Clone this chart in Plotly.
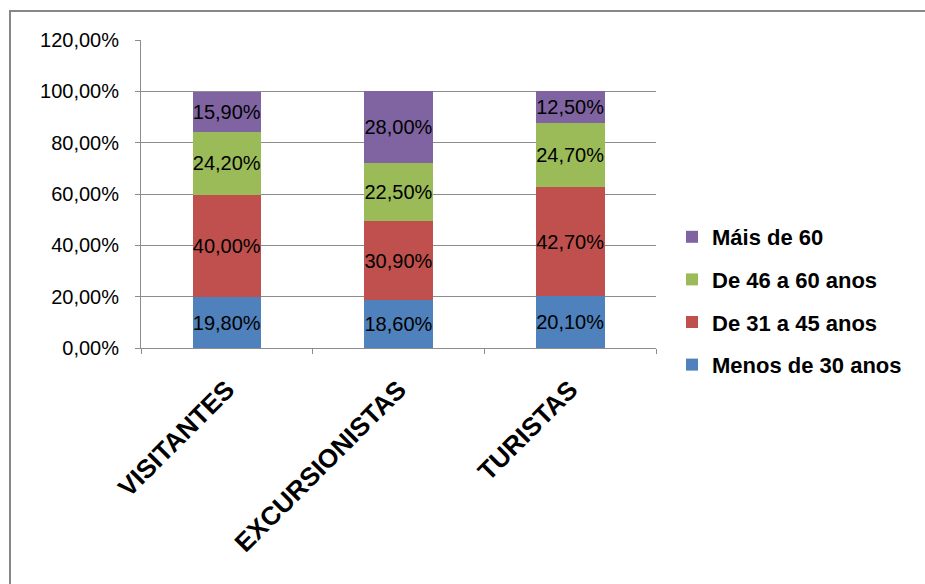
import plotly.graph_objects as go

# Age-group distribution by visitor type (percent of each group)
categories = ["VISITANTES", "EXCURSIONISTAS", "TURISTAS"]
series_names = ["Menos de 30 anos", "De 31 a 45 anos", "De 46 a 60 anos", "Máis de 60"]
menos_30 = [19.8, 18.6, 20.1]
de_31_45 = [40.0, 30.9, 42.7]
de_46_60 = [24.2, 22.5, 24.7]
mais_60 = [15.9, 28.0, 12.5]
series_values = [menos_30, de_31_45, de_46_60, mais_60]
colors = ["#4F81BD", "#C0504D", "#9BBB59", "#8064A2"]

y_ticks = [0, 20, 40, 60, 80, 100, 120]
y_tick_labels = [f"{v:.2f}".replace(".", ",") + "%" for v in y_ticks]

FONT = "Liberation Sans, Arial, sans-serif"
GRID = "#8c8c8c"

fig = go.Figure()
n = len(series_names)
for i, (name, vals, col) in enumerate(zip(series_names, series_values, colors)):
    fig.add_trace(go.Bar(
        x=categories,
        y=vals,
        name=name,
        legendgroup=f"g{i}",
        legendrank=n - i,
        marker=dict(color=col, line=dict(width=0)),
        width=0.4,
        texttemplate="%{y:.2f}%",
        textposition="inside",
        insidetextanchor="middle",
        constraintext="none",
        textangle=0,
        textfont=dict(family=FONT, size=20, color="black"),
        hoverinfo="skip",
    ))

# plot area edges in pixels
L, R, T, B = 141, 656, 40, 348
W, H = 925, 584
pw, ph = R - L, B - T

fig.update_layout(
    width=W, height=H,
    barmode="stack",
    separators=",.",
    paper_bgcolor="white",
    plot_bgcolor="white",
    margin=dict(l=L, r=W - R, t=T, b=H - B, pad=0),
    font=dict(family=FONT, color="black"),
    showlegend=True,
    legend=dict(
        x=(672 - L) / pw, xanchor="left",
        y=(B - 301) / ph, yanchor="middle",
        traceorder="grouped",
        tracegroupgap=11,
        font=dict(family=FONT, size=22, color="black", weight="bold"),
        itemwidth=30,
        bgcolor="rgba(0,0,0,0)",
    ),
    xaxis=dict(
        type="category",
        tickangle=-45,
        tickfont=dict(family=FONT, size=26, color="black", weight="bold"),
        showline=True, linecolor=GRID, linewidth=1,
        ticks="outside", tickson="boundaries", ticklen=5, tickcolor=GRID,
        ticklabelstandoff=15,
        showgrid=False,
    ),
    yaxis=dict(
        range=[0, 120],
        tickmode="array",
        tickvals=y_ticks,
        ticktext=y_tick_labels,
        tickfont=dict(family=FONT, size=20, color="black"),
        showgrid=True, gridcolor=GRID, gridwidth=1,
        showline=True, linecolor=GRID, linewidth=1,
        ticks="outside", ticklen=5, tickcolor=GRID,
        ticklabelstandoff=12,
        zeroline=False,
    ),
    shapes=[dict(
        type="rect", xref="paper", yref="paper",
        x0=(10 - L) / pw, x1=(940 - L) / pw,
        y0=(B - 600) / ph, y1=(B - 11) / ph,
        line=dict(color="#878787", width=2),
        fillcolor="rgba(0,0,0,0)",
        layer="below",
    )],
)

fig.write_html("out.html")
